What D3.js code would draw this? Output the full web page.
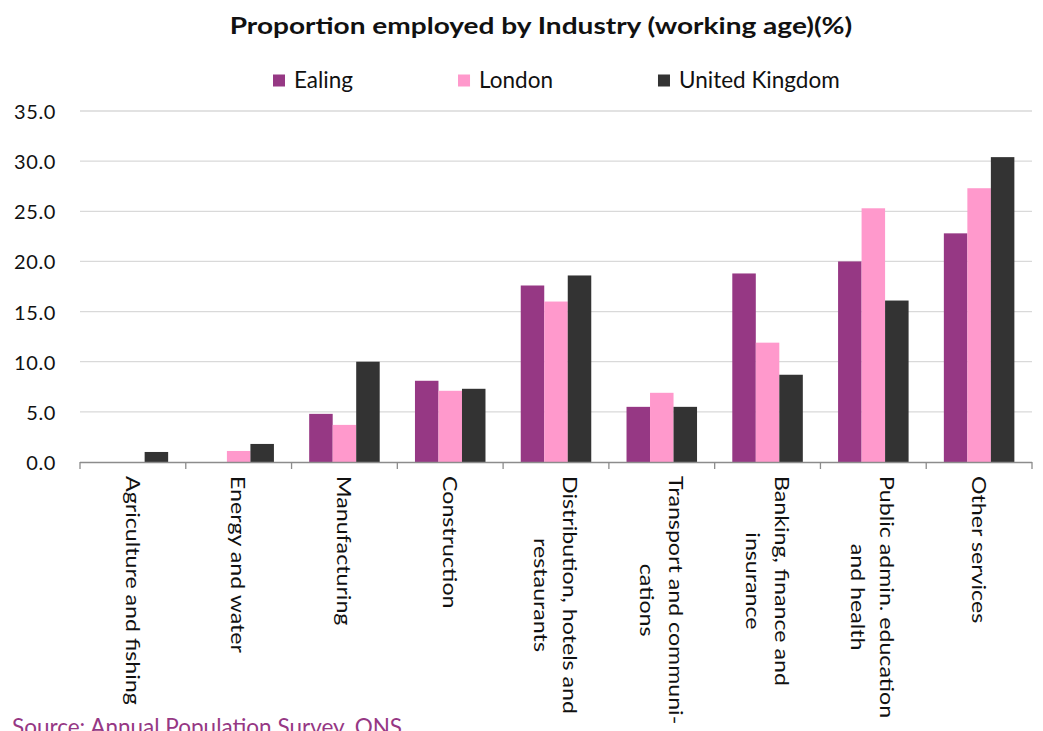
<!DOCTYPE html>
<html>
<head>
<meta charset="utf-8">
<script src="https://cdn.jsdelivr.net/npm/d3@7"></script>
<style>
  html, body { margin: 0; padding: 0; background: #fff; }
  svg { display: block; font-family: Lato, "Open Sans", sans-serif; }
</style>
</head>
<body>
<svg id="chart" width="1043" height="731"></svg>
<script>
// ---- data ----
const categories = [
  "Agriculture and fishing",
  "Energy and water",
  "Manufacturing",
  "Construction",
  "Distribution, hotels and|restaurants",
  "Transport and communi-|cations",
  "Banking, finance and|insurance",
  "Public admin. education|and health",
  "Other services"
];
const seriesNames = ["Ealing", "London", "United Kingdom"];
const ealing = [null, null, 4.8, 8.1, 17.6, 5.5, 18.8, 20.0, 22.8];
const london = [null, 1.1, 3.7, 7.1, 16.0, 6.9, 11.9, 25.3, 27.3];
const uk     = [1.0, 1.8, 10.0, 7.3, 18.6, 5.5, 8.7, 16.1, 30.4];
const yTicks = [0, 5, 10, 15, 20, 25, 30, 35];
const colors = ["#963884", "#FF99CC", "#333333"];
const titleText = "Proportion employed by Industry (working age)(%)";
const sourceText = "Source: Annual Population Survey, ONS";

// ---- layout ----
const svg = d3.select("#chart");
const plot = { left: 80, right: 1032, top: 111, bottom: 462 };

const x = d3.scaleBand().domain(categories).range([plot.left, plot.right]).paddingInner(0).paddingOuter(0);
const groupPad = 1/6; // Excel gap width 50%
const xs = d3.scaleBand().domain(seriesNames)
  .range([x.bandwidth() * groupPad, x.bandwidth() * (1 - groupPad)]).padding(0);
const y = d3.scaleLinear().domain([0, 35]).range([plot.bottom, plot.top]);

// gridlines
svg.append("g").selectAll("line").data(yTicks.filter(d => d > 0)).join("line")
  .attr("x1", plot.left).attr("x2", plot.right)
  .attr("y1", d => y(d)).attr("y2", d => y(d))
  .attr("stroke", "#d9d9d9").attr("stroke-width", 1.3);

// y tick labels
svg.append("g").selectAll("text").data(yTicks).join("text")
  .attr("x", 56).attr("y", d => y(d))
  .attr("text-anchor", "end").attr("dominant-baseline", "central")
  .attr("font-size", 20).attr("fill", "#111")
  .attr("letter-spacing", 0.6)
  .text(d3.format(".1f"));

// bars
const series = [ealing, london, uk];
series.forEach((vals, si) => {
  svg.append("g").selectAll("rect")
    .data(vals.map((v, i) => ({ v, c: categories[i] })).filter(d => d.v != null))
    .join("rect")
    .attr("x", d => x(d.c) + xs(seriesNames[si]))
    .attr("width", xs.bandwidth())
    .attr("y", d => y(d.v))
    .attr("height", d => y(0) - y(d.v))
    .attr("fill", colors[si]);
});

// x axis line and ticks
const axis = svg.append("g");
axis.append("line").attr("x1", plot.left).attr("x2", plot.right)
  .attr("y1", plot.bottom + 0.5).attr("y2", plot.bottom + 0.5)
  .attr("stroke", "#8c8c8c").attr("stroke-width", 1.3);
const tickXs = categories.map(c => x(c)).concat([plot.right]);
axis.selectAll("line.tk").data(tickXs).join("line").attr("class", "tk")
  .attr("x1", d => d).attr("x2", d => d)
  .attr("y1", plot.bottom).attr("y2", plot.bottom + 7)
  .attr("stroke", "#8c8c8c").attr("stroke-width", 1.3);

// category labels (rotated 90deg, multi-line centered)
const lineH = 29;
categories.forEach(c => {
  const lines = c.split("|");
  const cx = x(c) + x.bandwidth() / 2;
  const g = svg.append("g").attr("transform", `translate(${cx},476) rotate(90) scale(1.16,1)`);
  const t = g.append("text").attr("font-size", 20).attr("fill", "#111")
    .attr("dominant-baseline", "central").attr("text-anchor", "middle");
  const spans = lines.map((ln, i) => t.append("tspan").attr("y", (i - (lines.length - 1) / 2) * lineH).text(ln));
  let maxW = 0;
  spans.forEach(s => { maxW = Math.max(maxW, s.node().getComputedTextLength()); });
  spans.forEach(s => s.attr("x", maxW / 2));
});

// title
svg.append("g").attr("transform", "translate(541,34) scale(1.22,1)")
  .append("text").attr("x", 0).attr("y", 0)
  .attr("text-anchor", "middle").attr("font-size", 23).attr("font-weight", "bold")
  .attr("fill", "#111").text(titleText);

// legend
let lx = 273;
seriesNames.forEach((n, i) => {
  svg.append("rect").attr("x", lx).attr("y", 74.5).attr("width", 12).attr("height", 12).attr("fill", colors[i]);
  const t = svg.append("text").attr("x", lx + 21).attr("y", 88).attr("font-size", 22.5).attr("fill", "#111").text(n);
  lx = lx + 21 + t.node().getComputedTextLength() + 105;
});

// source
svg.append("text").attr("x", 12).attr("y", 735).attr("font-size", 22.5).attr("fill", "#963884").text(sourceText);
</script>
</body>
</html>
